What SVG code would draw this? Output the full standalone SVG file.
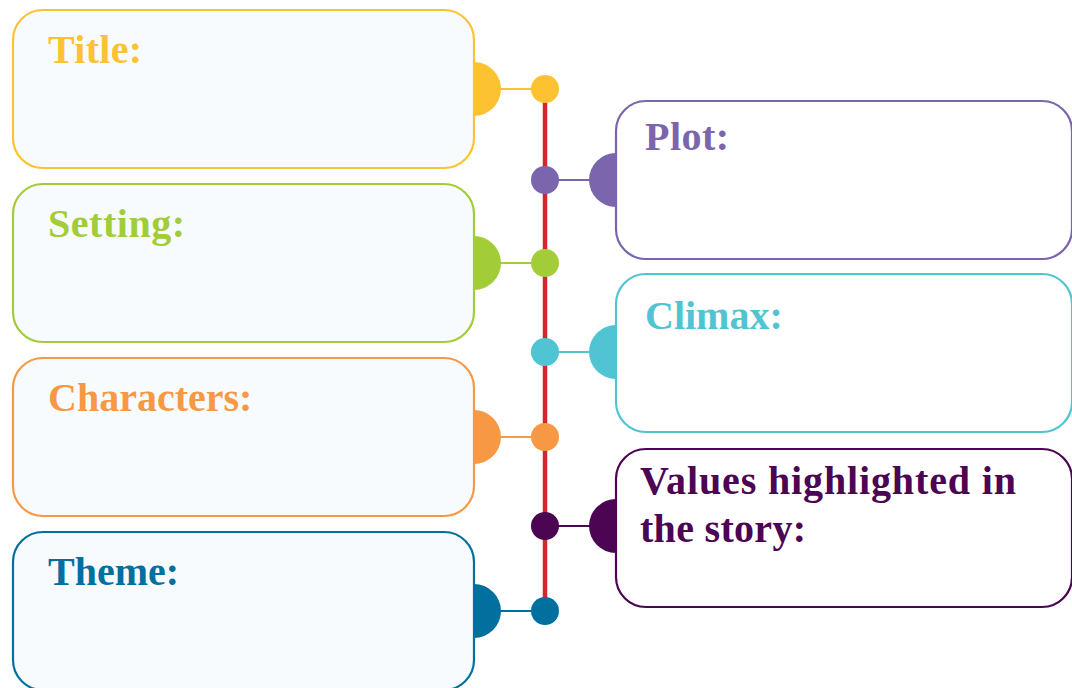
<svg xmlns="http://www.w3.org/2000/svg" width="1072" height="688" viewBox="0 0 1072 688">
<style>
.box{stroke-width:2.2}
.lb{fill:#f7fbfe}
.rb{fill:#ffffff}
.lbl{font-family:"Liberation Serif","Times New Roman",serif;font-weight:bold;font-size:40px}
.link{stroke-width:2;fill:none}
</style>
<rect width="1072" height="688" fill="#ffffff"/>
<g id="spine">
<line x1="545" y1="89" x2="545" y2="610" stroke="#d1282e" stroke-width="4.5"/>
</g>
<g id="connectors">
<line class="link" x1="500" y1="89" x2="532" y2="89" stroke="#fdc232"/>
<line class="link" x1="558" y1="180" x2="590" y2="180" stroke="#7b65ad"/>
<line class="link" x1="500" y1="263" x2="532" y2="263" stroke="#a3cc39"/>
<line class="link" x1="558" y1="352" x2="590" y2="352" stroke="#50c4d3"/>
<line class="link" x1="500" y1="437" x2="532" y2="437" stroke="#f79845"/>
<line class="link" x1="558" y1="526" x2="590" y2="526" stroke="#4b0552"/>
<line class="link" x1="500" y1="611" x2="532" y2="611" stroke="#02709f"/>
</g>
<g id="title">
<rect class="box lb" x="13" y="10" width="461" height="158" rx="30" stroke="#fdc232"/>
<path d="M474 62 A27 27 0 0 1 474 116 Z" fill="#fdc232"/>
<circle cx="545" cy="89" r="14" fill="#fdc232"/>
<text class="lbl" x="48" y="63" fill="#fdc232" textLength="94">Title:</text>
</g>
<g id="setting">
<rect class="box lb" x="13" y="184" width="461" height="158" rx="30" stroke="#a3cc39"/>
<path d="M474 236 A27 27 0 0 1 474 290 Z" fill="#a3cc39"/>
<circle cx="545" cy="263" r="14" fill="#a3cc39"/>
<text class="lbl" x="48" y="237" fill="#a3cc39" textLength="137">Setting:</text>
</g>
<g id="characters">
<rect class="box lb" x="13" y="358" width="461" height="158" rx="30" stroke="#f79845"/>
<path d="M474 410 A27 27 0 0 1 474 464 Z" fill="#f79845"/>
<circle cx="545" cy="437" r="14" fill="#f79845"/>
<text class="lbl" x="48" y="411" fill="#f79845">Characters:</text>
</g>
<g id="theme">
<rect class="box lb" x="13" y="532" width="461" height="158" rx="30" stroke="#02709f"/>
<path d="M474 584 A27 27 0 0 1 474 638 Z" fill="#02709f"/>
<circle cx="545" cy="611" r="14" fill="#02709f"/>
<text class="lbl" x="48" y="585" fill="#02709f">Theme:</text>
</g>
<g id="plot">
<rect class="box rb" x="616" y="101" width="456" height="158" rx="30" stroke="#7b65ad"/>
<path d="M616 153 A27 27 0 0 0 616 207 Z" fill="#7b65ad"/>
<circle cx="545" cy="180" r="14" fill="#7b65ad"/>
<text class="lbl" x="645" y="150" fill="#7b65ad" textLength="84">Plot:</text>
</g>
<g id="climax">
<rect class="box rb" x="616" y="274" width="456" height="158" rx="30" stroke="#50c4d3"/>
<path d="M616 325 A27 27 0 0 0 616 379 Z" fill="#50c4d3"/>
<circle cx="545" cy="352" r="14" fill="#50c4d3"/>
<text class="lbl" x="645" y="329" fill="#50c4d3">Climax:</text>
</g>
<g id="values">
<rect class="box rb" x="616" y="449" width="456" height="158" rx="30" stroke="#4b0552"/>
<path d="M616 499 A27 27 0 0 0 616 553 Z" fill="#4b0552"/>
<circle cx="545" cy="526" r="14" fill="#4b0552"/>
<text class="lbl" x="640" y="494" fill="#4b0552" textLength="376">Values highlighted in</text>
<text class="lbl" x="640" y="542" fill="#4b0552" textLength="166">the story:</text>
</g>
</svg>
